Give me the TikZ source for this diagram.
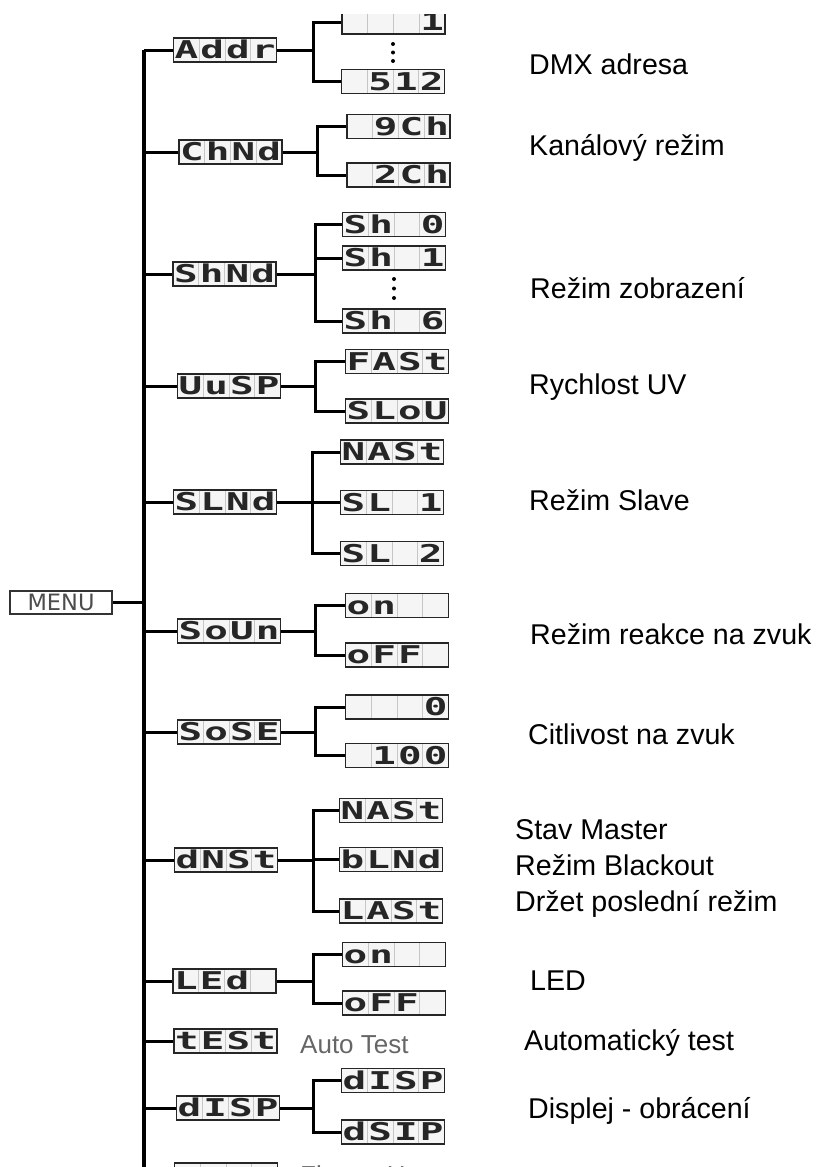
\documentclass[tikz,border=0pt]{standalone}
\usepackage{fontspec}
\setmainfont{Liberation Sans}
\newfontfamily\lcdfont{DejaVu Sans Mono}[FakeStretch=1.6]
\newfontfamily\menufont{DejaVu Sans}
\usetikzlibrary{calc}
\newlength\lcdcw \setlength\lcdcw{25.75pt}
\newcommand\lcdtxt[4]{\makebox[\lcdcw]{#1}\makebox[\lcdcw]{#2}\makebox[\lcdcw]{#3}\makebox[\lcdcw]{#4}}
\tikzset{
  lcd/.style={draw=black!85, line width=1.8pt, fill=black!4, minimum width=103pt, minimum height=24pt,
    inner sep=0pt, text height=17.5pt, text depth=0pt, text=black!85,
    font=\lcdfont\bfseries\fontsize{24.5}{24.5}\selectfont,
    path picture={\foreach \i in {1,2,3}{\draw[gray!45, line width=1pt]
      ($(path picture bounding box.south west)!\i/4!(path picture bounding box.south east)$) --
      ($(path picture bounding box.north west)!\i/4!(path picture bounding box.north east)$);}}},
  menubox/.style={draw=black!80, line width=1.5pt, minimum width=102pt, minimum height=23pt, inner sep=0pt,
    font=\menufont\fontsize{22.5}{22.5}\selectfont, text=black!70},
  desc/.style={anchor=base west, inner sep=0pt, font=\fontsize{28.6}{28.6}\selectfont},
  grey/.style={anchor=base west, inner sep=0pt, font=\fontsize{26}{26}\selectfont, text=black!60},
  link/.style={line width=3pt},
  trunkline/.style={line width=3.4pt},
  dot/.style={fill=black}
}
\begin{document}
\begin{tikzpicture}[x=1pt,y=-1pt]
\useasboundingbox (0,0) rectangle (820,1167);
\clip (0,14) rectangle (820,1167);

% MENU and trunk
\node[menubox] (menu) at (61,602.5) {MENU};
\coordinate (tr) at (144,50);
\coordinate (trb) at (144,1190);
\draw[trunkline] (tr) -- (trb);
\draw[link] (menu.east) -- (menu.east -| tr);

% level 1
\node[lcd] (addr) at (225,50) {\lcdtxt{A}{d}{d}{r}};
\node[lcd] (chnd) at (230.5,152) {\lcdtxt{C}{h}{N}{d}};
\node[lcd] (shnd) at (224.5,274) {\lcdtxt{S}{h}{N}{d}};
\node[lcd] (uusp) at (229,386) {\lcdtxt{U}{u}{S}{P}};
\node[lcd] (slnd) at (225,502) {\lcdtxt{S}{L}{N}{d}};
\node[lcd] (soun) at (229,631) {\lcdtxt{S}{o}{U}{n}};
\node[lcd] (sose) at (229,732) {\lcdtxt{S}{o}{S}{E}};
\node[lcd] (dnst) at (226,860) {\lcdtxt{d}{N}{S}{t}};
\node[lcd] (led)  at (224.5,981) {\lcdtxt{L}{E}{d}{}};
\node[lcd] (test) at (225.5,1041) {\lcdtxt{t}{E}{S}{t}};
\node[lcd] (disp) at (228,1108) {\lcdtxt{d}{I}{S}{P}};
\node[lcd] (fhrs) at (226,1175) {\lcdtxt{}{}{}{}};

\foreach \n in {addr,chnd,shnd,uusp,slnd,soun,sose,dnst,led,test,disp,fhrs}
  \draw[link] (\n.west) -- (\n.west -| tr);

\node[grey] (autotest) at (300,1053) {Auto Test};
\node[grey] (fixhours) at (300,1184) {Fixture Hours};

% level 2
\node[lcd] (addr1) at (393.5,22) {\lcdtxt{}{}{}{1}};
\node[lcd] (addr2) at (393,81.5) {\lcdtxt{}{5}{1}{2}};
\node[lcd] (ch9) at (398.5,126.5) {\lcdtxt{}{9}{C}{h}};
\node[lcd] (ch2) at (398.5,175) {\lcdtxt{}{2}{C}{h}};
\node[lcd] (sh0) at (394,224.5) {\lcdtxt{S}{h}{}{0}};
\node[lcd] (sh1) at (394,258) {\lcdtxt{S}{h}{}{1}};
\node[lcd] (sh6) at (394,321) {\lcdtxt{S}{h}{}{6}};
\node[lcd] (fast) at (397,361.5) {\lcdtxt{F}{A}{S}{t}};
\node[lcd] (slou) at (397,411) {\lcdtxt{S}{L}{o}{U}};
\node[lcd] (slmast) at (392,452) {\lcdtxt{N}{A}{S}{t}};
\node[lcd] (sl1) at (392,502.5) {\lcdtxt{S}{L}{}{1}};
\node[lcd] (sl2) at (392,553.5) {\lcdtxt{S}{L}{}{2}};
\node[lcd] (sndon) at (397,605.5) {\lcdtxt{o}{n}{}{}};
\node[lcd] (sndoff) at (397,655) {\lcdtxt{o}{F}{F}{}};
\node[lcd] (sens0) at (397,707) {\lcdtxt{}{}{}{0}};
\node[lcd] (sens100) at (397,755.5) {\lcdtxt{}{1}{0}{0}};
\node[lcd] (dmast) at (391,810.5) {\lcdtxt{N}{A}{S}{t}};
\node[lcd] (dblnd) at (391,859.5) {\lcdtxt{b}{L}{N}{d}};
\node[lcd] (dlast) at (391,911) {\lcdtxt{L}{A}{S}{t}};
\node[lcd] (ledon) at (394,954.5) {\lcdtxt{o}{n}{}{}};
\node[lcd] (ledoff) at (394,1003) {\lcdtxt{o}{F}{F}{}};
\node[lcd] (disp1) at (393,1080.5) {\lcdtxt{d}{I}{S}{P}};
\node[lcd] (disp2) at (393,1132) {\lcdtxt{d}{S}{I}{P}};

% junctions
\coordinate (jaddr) at (313,50);
\coordinate (jchnd) at (317,152);
\coordinate (jshnd) at (315,274);
\coordinate (juusp) at (315,386);
\coordinate (jslnd) at (312,502);
\coordinate (jsoun) at (315,631);
\coordinate (jsose) at (315,732);
\coordinate (jdnst) at (313,860);
\coordinate (jled) at (313,981);
\coordinate (jdisp) at (313,1108);

\foreach \p/\cs in {addr/{addr1,addr2}, chnd/{ch9,ch2}, shnd/{sh0,sh1,sh6}, uusp/{fast,slou},
  slnd/{slmast,sl1,sl2}, soun/{sndon,sndoff}, sose/{sens0,sens100}, dnst/{dmast,dblnd,dlast},
  led/{ledon,ledoff}, disp/{disp1,disp2}}{
  \draw[link] (\p.east) -- (j\p);
  \foreach \c in \cs { \draw[link] (j\p) |- (\c.west); }
}

% ellipsis dots
\foreach \yy in {44,52.5,61} \fill[dot] (393,\yy) circle (2pt);
\foreach \yy in {279,288.5,298} \fill[dot] (394,\yy) circle (2pt);

% descriptions
\node[desc] (d1) at (529,74) {DMX adresa};
\node[desc] (d2) at (529,155) {Kanálový režim};
\node[desc] (d3) at (530,298) {Režim zobrazení};
\node[desc] (d4) at (529,394) {Rychlost UV};
\node[desc] (d5) at (529,510) {Režim Slave};
\node[desc] (d6) at (530,644) {Režim reakce na zvuk};
\node[desc] (d7) at (528,744) {Citlivost na zvuk};
\node[desc] (d8) at (515,839) {Stav Master};
\node[desc] (d9) at (515,875) {Režim Blackout};
\node[desc] (d10) at (515,911) {Držet poslední režim};
\node[desc] (d11) at (530,990) {LED};
\node[desc] (d12) at (524,1050) {Automatický test};
\node[desc] (d13) at (528,1118) {Displej - obrácení};
\end{tikzpicture}
\end{document}
